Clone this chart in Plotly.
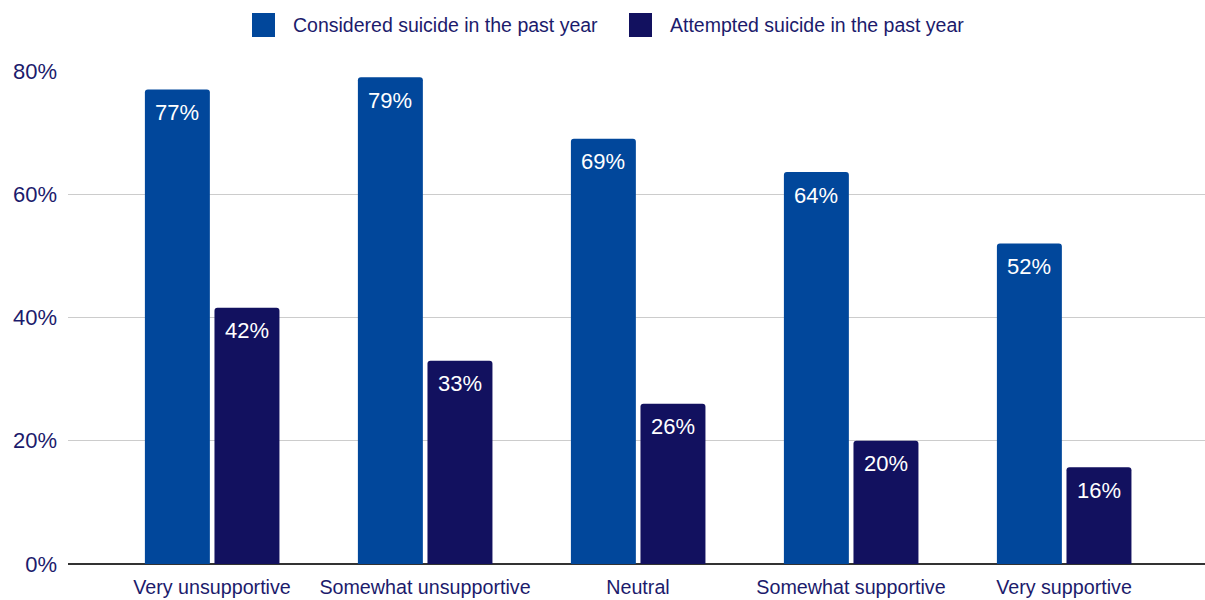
import plotly.graph_objects as go

categories = ["Very unsupportive", "Somewhat unsupportive", "Neutral", "Somewhat supportive", "Very supportive"]
series_names = ["Considered suicide in the past year", "Attempted suicide in the past year"]
considered = [77, 79, 69, 63.6, 52]
attempted = [41.6, 33, 26, 20, 15.7]
y_ticks = [0, 20, 40, 60, 80]
y_tick_labels = [f"{v}%" for v in y_ticks]

colors = ["#01479B", "#12115F"]
text_color = "#1C1B6C"
FONT = "Liberation Sans, Arial, sans-serif"

# body margin is removed in the page (post_script), so figure px == screen px
W, H = 1205, 600
PLOT_L, PLOT_R, PLOT_T, PLOT_B = 68, 1205, 71, 564
L, T, R, B = PLOT_L, PLOT_T, W - PLOT_R, H - PLOT_B
pw, ph = W - L - R, H - T - B

def px2x(px):
    return (px - L) / pw

def py2y(py):
    return (H - B - py) / ph

fig = go.Figure()
series = [considered, attempted]
offsets = [-0.315, 0.0117]
xshifts = [-34.5, 35.5]
for i, (name, vals) in enumerate(zip(series_names, series)):
    fig.add_trace(go.Bar(
        x=categories, y=vals, name=name,
        marker=dict(color=colors[i], line=dict(width=0)),
        width=0.305, offset=offsets[i], showlegend=False, hoverinfo="skip",
    ))
    for c, v in zip(categories, vals):
        fig.add_annotation(
            x=c, y=v, text=f"{round(v)}%", showarrow=False,
            yanchor="middle", xanchor="center", yshift=-23, xshift=xshifts[i],
            font=dict(family=FONT, size=22, color="white"),
        )

# manual legend
leg_sq = [(252, 275), (629, 652)]
leg_tx = [291, 668]
for i, name in enumerate(series_names):
    x0, x1 = leg_sq[i]
    fig.add_shape(type="rect", xref="paper", yref="paper",
                  x0=px2x(x0), x1=px2x(x1), y0=py2y(37), y1=py2y(13),
                  fillcolor=colors[i], line=dict(width=0))
    fig.add_annotation(xref="paper", yref="paper", x=px2x(leg_tx[i]), y=py2y(25),
                       text=name, showarrow=False, xanchor="left", yanchor="middle",
                       font=dict(family=FONT, size=19.5, color=text_color))

fig.update_layout(
    width=W, height=H,
    margin=dict(l=L, r=R, t=T, b=B, autoexpand=False),
    plot_bgcolor="white", paper_bgcolor="white",
    barmode="overlay", barcornerradius=3,
    font=dict(family=FONT, color=text_color),
    xaxis=dict(range=[-0.676, 4.662], showgrid=False, showline=False, ticks="",
               automargin=False, fixedrange=True,
               tickfont=dict(size=19.7, color=text_color), ticklabelstandoff=9),
    yaxis=dict(range=[0, 80], tickvals=y_ticks, ticktext=y_tick_labels, showgrid=True,
               automargin=False,
               gridcolor="#CCCCCC", gridwidth=1, zeroline=True, zerolinecolor="#333333",
               zerolinewidth=1.5, ticks="", tickfont=dict(size=22, color=text_color),
               ticklabelstandoff=10, fixedrange=True),
)

fig.write_html("out.html", config={"displayModeBar": False},
               post_script="document.body.style.margin='0';document.body.style.overflow='hidden';")
